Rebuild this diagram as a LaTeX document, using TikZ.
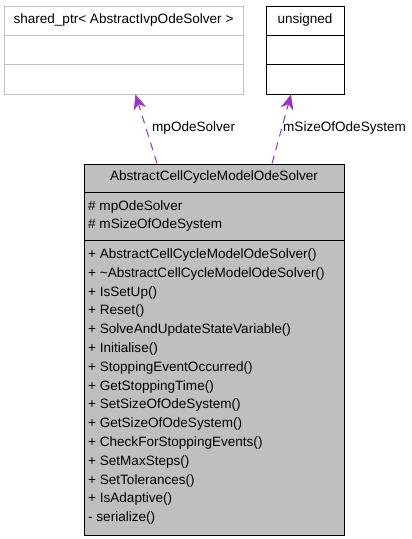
\documentclass[tikz,border=0pt]{standalone}
\usepackage{fontspec}
\setmainfont{Liberation Sans}
\usetikzlibrary{arrows.meta}
\definecolor{mainfill}{HTML}{BFBFBF}
\definecolor{lightborder}{HTML}{BFBFBF}
\definecolor{usecol}{HTML}{9A32CD}
\begin{document}
\begin{tikzpicture}[x=1bp,y=-1bp,
  txt/.style={font=\fontsize{13.6}{16}\selectfont, inner sep=0pt, text height=10bp, text depth=3bp},
  linetxt/.style={txt, anchor=west},
  boxframe/.style={draw, line width=1bp, inner sep=0pt, anchor=north west},
  usage/.style={draw=usecol, line width=1bp, dash pattern=on 8bp off 6bp,
     -{Stealth[length=15bp,width=13bp,inset=5bp,fill=usecol,line width=0.6bp,sep=0pt]}},
  ]
\useasboundingbox (0,0) rectangle (411,539);
% shared_ptr box
\node[boxframe, draw=lightborder, fill=white, minimum width=239bp, minimum height=88bp] (sp) at (4,6) {};
\draw[lightborder, line width=1bp] (4,35.5) -- (243,35.5) (4,65) -- (243,65);
\node[txt] (sptitle) at (123.5,20.5) {shared\_ptr< AbstractIvpOdeSolver >};
% unsigned box
\node[boxframe, draw=black, fill=white, minimum width=78bp, minimum height=88bp] (us) at (266,6) {};
\draw[black, line width=1bp] (266,35.5) -- (344,35.5) (266,65) -- (344,65);
\node[txt] (ustitle) at (305,20.5) {unsigned};
% main box
\node[boxframe, draw=black, fill=mainfill, minimum width=260bp, minimum height=371bp] (main) at (84,164) {};
\draw[black, line width=1bp] (84,192.5) -- (344,192.5) (84,240.5) -- (344,240.5);
\node[txt] (maintitle) at (214,177.5) {AbstractCellCycleModelOdeSolver};
\node[linetxt] (a1) at (88,207) {\# mpOdeSolver};
\node[linetxt] (a2) at (88,225) {\# mSizeOfOdeSystem};
\foreach \t [count=\i from 0] in {%
  + AbstractCellCycleModelOdeSolver(),
  + \textasciitilde AbstractCellCycleModelOdeSolver(),
  + IsSetUp(),
  + Reset(),
  + SolveAndUpdateStateVariable(),
  + Initialise(),
  + StoppingEventOccurred(),
  + GetStoppingTime(),
  + SetSizeOfOdeSystem(),
  + GetSizeOfOdeSystem(),
  + CheckForStoppingEvents(),
  + SetMaxSteps(),
  + SetTolerances(),
  + IsAdaptive(),
  - serialize()}
  {\node[linetxt] (m\i) at (88,{255+18.8*\i}) {\t};}
% connectors
\coordinate (s1) at (157,163.5);
\coordinate (t1) at (135.5,94.5);
\coordinate (s2) at (272,163.5);
\coordinate (t2) at (291,94.5);
\draw[usage] (s1) -- (t1);
\draw[usage] (s2) -- (t2);
\node[linetxt] (l1) at (152,128.5) {mpOdeSolver};
\node[linetxt] (l2) at (283,128.5) {mSizeOfOdeSystem};
\end{tikzpicture}
\end{document}
